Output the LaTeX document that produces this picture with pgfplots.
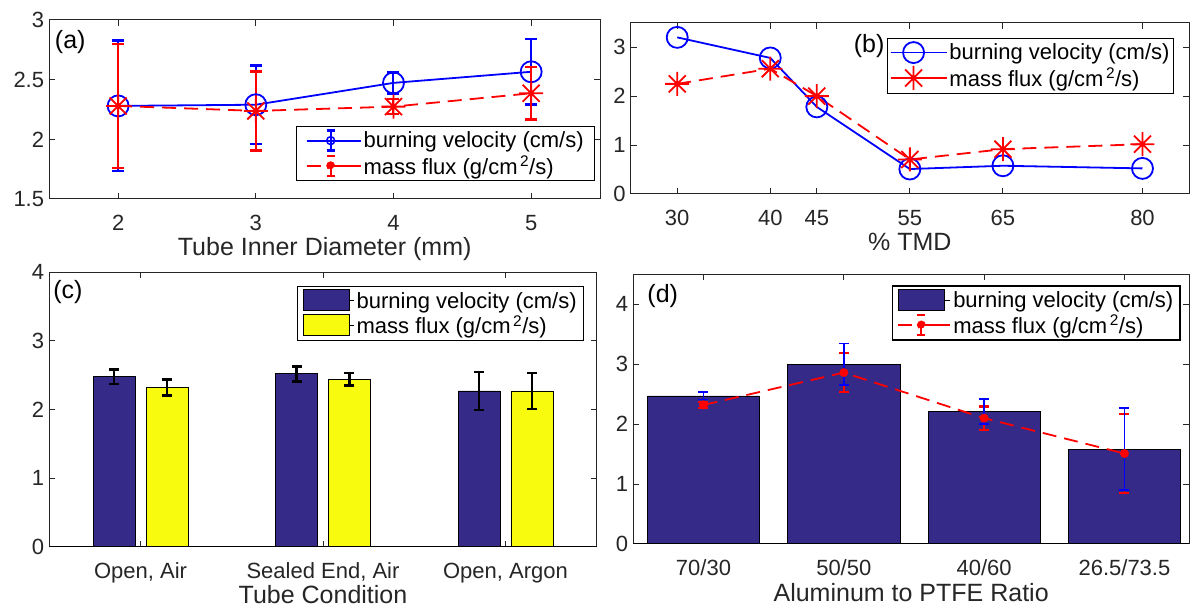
\documentclass[border=0pt]{standalone}
\usepackage{fontspec}
\setmainfont{Liberation Sans}
\usepackage{pgfplots}
\pgfplotsset{compat=1.18}

\definecolor{bvblue}{rgb}{0.208,0.165,0.529}
\definecolor{mfyellow}{rgb}{0.976,0.984,0.055}
\definecolor{axgray}{rgb}{0.15,0.15,0.15}

\newcommand\tickfont{\fontsize{22}{26}\selectfont}
\newcommand\labfont{\fontsize{25}{30}\selectfont}
\newcommand\legfont{\fontsize{22}{27}\selectfont}

% matlab style asterisk
\pgfdeclareplotmark{mstar}{%
  \pgfpathmoveto{\pgfqpoint{-\pgfplotmarksize}{0pt}}\pgfpathlineto{\pgfqpoint{\pgfplotmarksize}{0pt}}%
  \pgfpathmoveto{\pgfqpoint{0pt}{-\pgfplotmarksize}}\pgfpathlineto{\pgfqpoint{0pt}{\pgfplotmarksize}}%
  \pgfpathmoveto{\pgfqpoint{-.707\pgfplotmarksize}{-.707\pgfplotmarksize}}\pgfpathlineto{\pgfqpoint{.707\pgfplotmarksize}{.707\pgfplotmarksize}}%
  \pgfpathmoveto{\pgfqpoint{-.707\pgfplotmarksize}{.707\pgfplotmarksize}}\pgfpathlineto{\pgfqpoint{.707\pgfplotmarksize}{-.707\pgfplotmarksize}}%
  \pgfusepathqstroke}

\tikzset{plabel/.style={font=\labfont, text=black}}

\pgfplotsset{
  panel/.style={
    scale only axis, anchor=south west,
    axis line style={line width=1pt, draw=axgray},
    every tick/.style={line width=1pt, draw=axgray},
    tick align=inside, major tick length=6pt,
    tick label style={font=\tickfont, text=axgray},
    xticklabel style={anchor=base, yshift=-32pt},
    yticklabel style={anchor=east, inner sep=0pt, xshift=-5pt},
    xlabel style={font=\labfont, text=axgray, at={(axis description cs:0.5,0)}, anchor=base, yshift=-57pt},
    /pgf/number format/assume math mode=true,
    legend cell align=left,
    legend style={font=\legfont, draw=black, line width=0.8pt, anchor=north east,
      inner xsep=5pt, inner ysep=3pt, row sep=2pt},
  },
  ebar/.style 2 args={draw=none, mark=none, forget plot,
    error bars/.cd, y dir=both, y explicit,
    error bar style={line width=#2, draw=#1, solid},
    error mark options={rotate=90, line width=#2, mark size=5pt, draw=#1, solid}},
}

\begin{document}
\begin{tikzpicture}
\path[use as bounding box] (0pt,0pt) rectangle (1190pt,607pt);

% (a)
\begin{axis}[panel, at={(49.3pt,408pt)}, width=550.7pt, height=179pt,
  xmin=1.5, xmax=5.5, ymin=1.5, ymax=3,
  xtick={2,3,4,5}, ytick={1.5,2,2.5,3},
  xlabel={Tube Inner Diameter (mm)},
  legend style={at={(0.991,0.408)}, inner xsep=9pt}]
\addplot[blue, line width=1.8pt, mark=o, mark size=10.5pt,
  legend image code/.code={
    \path (0pt,0pt) -- (54pt,0pt);
    \draw[blue, line width=1.8pt] (0pt,0pt) -- (48pt,0pt);
    \draw[blue, line width=2pt] (24pt,-10pt) -- (24pt,10pt);
    \draw[blue, line width=2.5pt] (20pt,-10pt) -- (28pt,-10pt) (20pt,10pt) -- (28pt,10pt);
    \draw[blue, line width=1.5pt] (24pt,0pt) circle (4pt);},
  error bars/.cd, y dir=both, y explicit,
  error bar style={line width=2pt, solid},
  error mark options={rotate=90, line width=2.5pt, mark size=6pt, solid}]
  coordinates {(2,2.28) +- (0,0.547) (3,2.29) +- (0,0.33) (4,2.473) +- (0,0.088) (5,2.566) +- (0,0.273)};
\addlegendentry{burning velocity (cm/s)}
\addplot[red, line width=1.8pt, dash pattern=on 14pt off 8pt, mark=mstar, mark size=12pt, mark options={solid},
  legend image code/.code={
    \path (0pt,0pt) -- (54pt,0pt);
    \draw[red, line width=1.8pt] (0pt,0pt) -- (12pt,0pt) (20pt,0pt) -- (28pt,0pt) (36pt,0pt) -- (48pt,0pt);
    \draw[red, line width=2pt] (24pt,-10pt) -- (24pt,10pt);
    \draw[red, line width=2.5pt] (20pt,-10pt) -- (28pt,-10pt) (20pt,10pt) -- (28pt,10pt);
    \fill[red] (24pt,0pt) circle (3.5pt);},
  error bars/.cd, y dir=both, y explicit,
  error bar style={line width=2pt, solid},
  error mark options={rotate=90, line width=2.5pt, mark size=6pt, solid}]
  coordinates {(2,2.28) +- (0,0.519) (3,2.238) +- (0,0.33) (4,2.274) +- (0,0.062) (5,2.386) +- (0,0.218)};
\addlegendentry{mass flux (g/cm\textsuperscript{\,2}/s)}
\node[plabel] at (rel axis cs:0.038,0.877) {(a)};
\end{axis}

% (b)
\begin{axis}[panel, at={(630.7pt,413pt)}, width=558.3pt, height=171.3pt,
  xmin=25, xmax=85, ymin=0, ymax=3.5,
  xtick={30,40,45,55,65,80}, ytick={0,1,2,3},
  xlabel={\% TMD},
  legend style={at={(0.973,0.912)}, inner xsep=2pt}]
\addplot[blue, line width=1.8pt, mark=o, mark size=10.5pt,
  legend image code/.code={
    \path (0pt,0pt) -- (56pt,0pt);
    \draw[blue, line width=1.8pt] (0pt,0pt) -- (46pt,0pt);
    \draw[blue, line width=1.8pt] (23pt,0pt) circle (10.5pt);}]
  coordinates {(30,3.20) (40,2.78) (45,1.78) (55,0.51) (65,0.577) (80,0.523)};
\addlegendentry{burning velocity (cm/s)}
\addplot[red, line width=1.8pt, dash pattern=on 14pt off 8pt, mark=mstar, mark size=12pt, mark options={solid},
  legend image code/.code={
    \path (0pt,0pt) -- (56pt,0pt);
    \draw[red, line width=1.8pt] (0pt,0pt) -- (12pt,0pt) (34pt,0pt) -- (46pt,0pt);
    \draw[red, line width=1.8pt, mark=mstar, mark size=12pt] plot coordinates {(23pt,0pt)};}]
  coordinates {(30,2.25) (40,2.56) (45,2.00) (55,0.705) (65,0.916) (80,1.018)};
\addlegendentry{mass flux (g/cm\textsuperscript{\,2}/s)}
\node[plabel] at (rel axis cs:0.427,0.864) {(b)};
\end{axis}

% (c)
\begin{axis}[panel, at={(49.3pt,60.3pt)}, width=547.4pt, height=274.4pt,
  xmin=0.5, xmax=3.5, ymin=0, ymax=4,
  xtick={1,2,3}, xticklabels={{Open, Air},{Sealed End, Air},{Open, Argon}},
  ytick={0,1,2,3,4},
  xlabel={Tube Condition},
  legend style={at={(0.977,0.95)}}]
\addplot[ybar, bar width=0.23, bar shift=-0.145, fill=bvblue, draw=black, line width=0.8pt,
  legend image code/.code={\path (0pt,0pt) -- (51pt,0pt);
    \draw[fill=bvblue, draw=black, line width=0.8pt] (0pt,-10pt) rectangle (46pt,11pt);}]
  coordinates {(1,2.48) (2,2.52) (3,2.27)};
\addlegendentry{burning velocity (cm/s)}
\addplot[ybar, bar width=0.23, bar shift=0.145, fill=mfyellow, draw=black, line width=0.8pt,
  legend image code/.code={\path (0pt,0pt) -- (51pt,0pt);
    \draw[fill=mfyellow, draw=black, line width=0.8pt] (0pt,-10pt) rectangle (46pt,11pt);}]
  coordinates {(1,2.32) (2,2.44) (3,2.27)};
\addlegendentry{mass flux (g/cm\textsuperscript{\,2}/s)}
\addplot[ebar={black}{2.5pt}] coordinates {(0.855,2.48) +- (0,0.105) (1.855,2.52) +- (0,0.11) (2.855,2.27) +- (0,0.275)};
\addplot[ebar={black}{2.5pt}] coordinates {(1.145,2.32) +- (0,0.115) (2.145,2.44) +- (0,0.09) (3.145,2.27) +- (0,0.265)};
\draw[black, line width=2pt] (rel axis cs:0,0) -- (rel axis cs:1,0);
\node[plabel] at (rel axis cs:0.034,0.928) {(c)};
\end{axis}

% (d)
\begin{axis}[panel, at={(633.3pt,63pt)}, width=555.7pt, height=269.7pt,
  xmin=0.5, xmax=4.46, ymin=0, ymax=4.5,
  xtick={1,2,3,4}, xticklabels={70/30,50/50,40/60,26.5/73.5},
  ytick={0,1,2,3,4},
  xlabel={Aluminum to PTFE Ratio},
  legend style={at={(0.986,0.96)}, line width=1.8pt}]
\addplot[ybar, bar width=0.8, bar shift=0, fill=bvblue, draw=black, line width=0.8pt,
  legend image code/.code={\path (0pt,0pt) -- (52pt,0pt);
    \draw[fill=bvblue, draw=black, line width=0.8pt] (0pt,-10pt) rectangle (46pt,11pt);}]
  coordinates {(1,2.47) (2,3.00) (3,2.21) (4,1.585)};
\addlegendentry{burning velocity (cm/s)}
\addplot[red, line width=1.8pt, dash pattern=on 14pt off 8pt, mark=*, mark size=3.5pt, mark options={solid},
  legend image code/.code={
    \path (0pt,0pt) -- (52pt,0pt);
    \draw[red, line width=1.8pt] (0pt,0pt) -- (12pt,0pt) (20pt,0pt) -- (28pt,0pt) (36pt,0pt) -- (46pt,0pt);
    \draw[red, line width=1.8pt] (23pt,-10pt) -- (23pt,10pt);
    \draw[red, line width=2.2pt] (19pt,-10pt) -- (27pt,-10pt) (19pt,10pt) -- (27pt,10pt);
    \fill[red] (23pt,0pt) circle (3.5pt);},
  error bars/.cd, y dir=both, y explicit,
  error bar style={line width=1.6pt, solid},
  error mark options={rotate=90, line width=2.2pt, mark size=5pt, solid}]
  coordinates {(1,2.32) +- (0,0.05) (2,2.86) +- (0,0.325) (3,2.10) +- (0,0.195) (4,1.51) +- (0,0.657)};
\addlegendentry{mass flux (g/cm\textsuperscript{\,2}/s)}
\addplot[ebar={blue}{1.8pt}]
  coordinates {(1,2.47) +- (0,0.06) (2,3.00) +- (0,0.345) (3,2.21) +- (0,0.205) (4,1.585) +- (0,0.69)};
\draw[black, line width=2pt] (rel axis cs:0,0) -- (rel axis cs:1,0);
\node[plabel] at (rel axis cs:0.053,0.92) {(d)};
\end{axis}
\end{tikzpicture}
\end{document}
